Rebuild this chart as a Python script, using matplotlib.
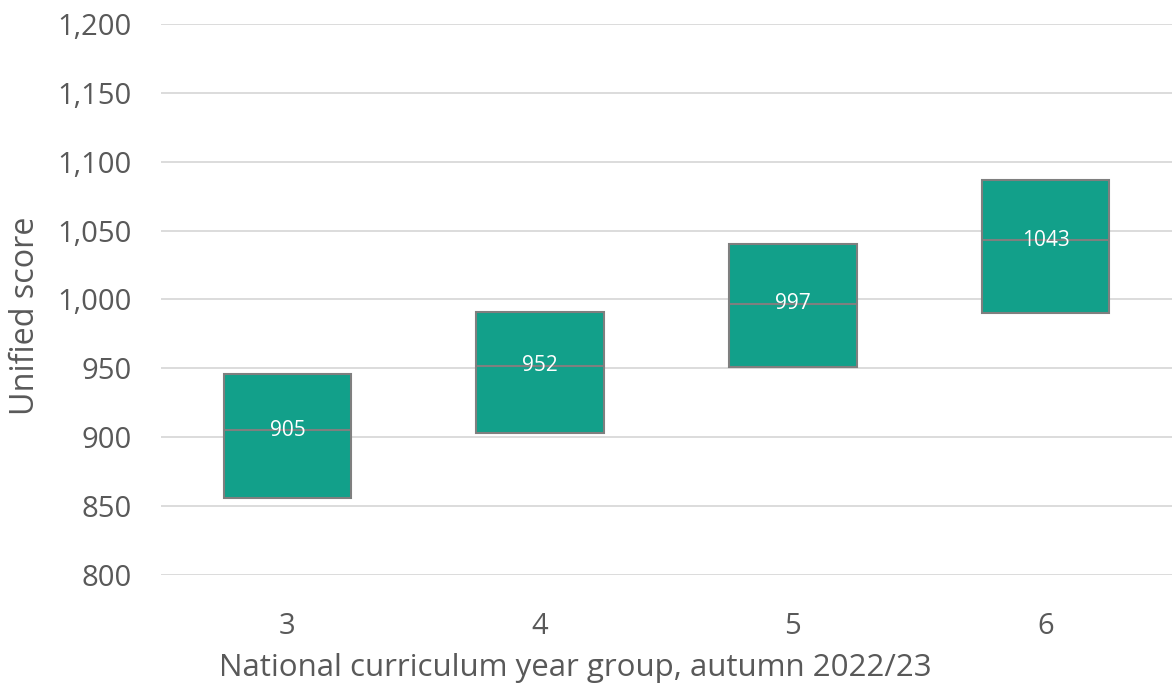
import matplotlib
matplotlib.use("Agg")
import matplotlib.pyplot as plt
from matplotlib.ticker import FuncFormatter

plt.rcParams['font.family'] = ['Open Sans', 'DejaVu Sans']

year_groups = ["3", "4", "5", "6"]
lower_quartile = [856, 903, 951, 990]
median = [905, 952, 997, 1043]
upper_quartile = [946, 991, 1040, 1087]

fill = "#12A08A"
edge = "#7F7F7F"
text_grey = "#595959"

fig = plt.figure(figsize=(11.72, 6.93), dpi=100)
ax = fig.add_axes([0.1374, 0.1703, 0.8626, 0.7951])

x = list(range(1, len(year_groups) + 1))
heights = [u - l for u, l in zip(upper_quartile, lower_quartile)]
ax.bar(x, heights, bottom=lower_quartile, width=0.505, color=fill,
       edgecolor=edge, linewidth=1.5, zorder=3)
for xi, m in zip(x, median):
    ax.hlines(m, xi - 0.2525, xi + 0.2525, color=edge, linewidth=1.5, zorder=4)
    ax.text(xi, m, f"{m}", ha="center", va="center", color="white",
            fontsize=15, zorder=5)

ax.set_xlim(0.5, 4.5)
ax.set_ylim(800, 1200)
ax.set_yticks(range(800, 1201, 50))
ax.yaxis.set_major_formatter(FuncFormatter(lambda v, p: f"{int(v):,}"))
ax.set_xticks(x)
ax.set_xticklabels(year_groups)

ax.grid(axis="y", color="#D9D9D9", linewidth=1.3, zorder=0)
ax.set_axisbelow(True)
for s in ax.spines.values():
    s.set_visible(False)
ax.tick_params(length=0, labelsize=21, colors=text_grey)
ax.tick_params(axis="y", pad=21)
ax.tick_params(axis="x", pad=27)

ax.set_ylabel("Unified score", fontsize=23.3, color=text_grey, labelpad=11)
ax.set_xlabel("National curriculum year group, autumn 2022/23", fontsize=22.5,
              color=text_grey, labelpad=8)
ax.yaxis.label.set_y(0.47)
ax.xaxis.label.set_x(0.41)

fig.savefig("out.png", dpi=100)
